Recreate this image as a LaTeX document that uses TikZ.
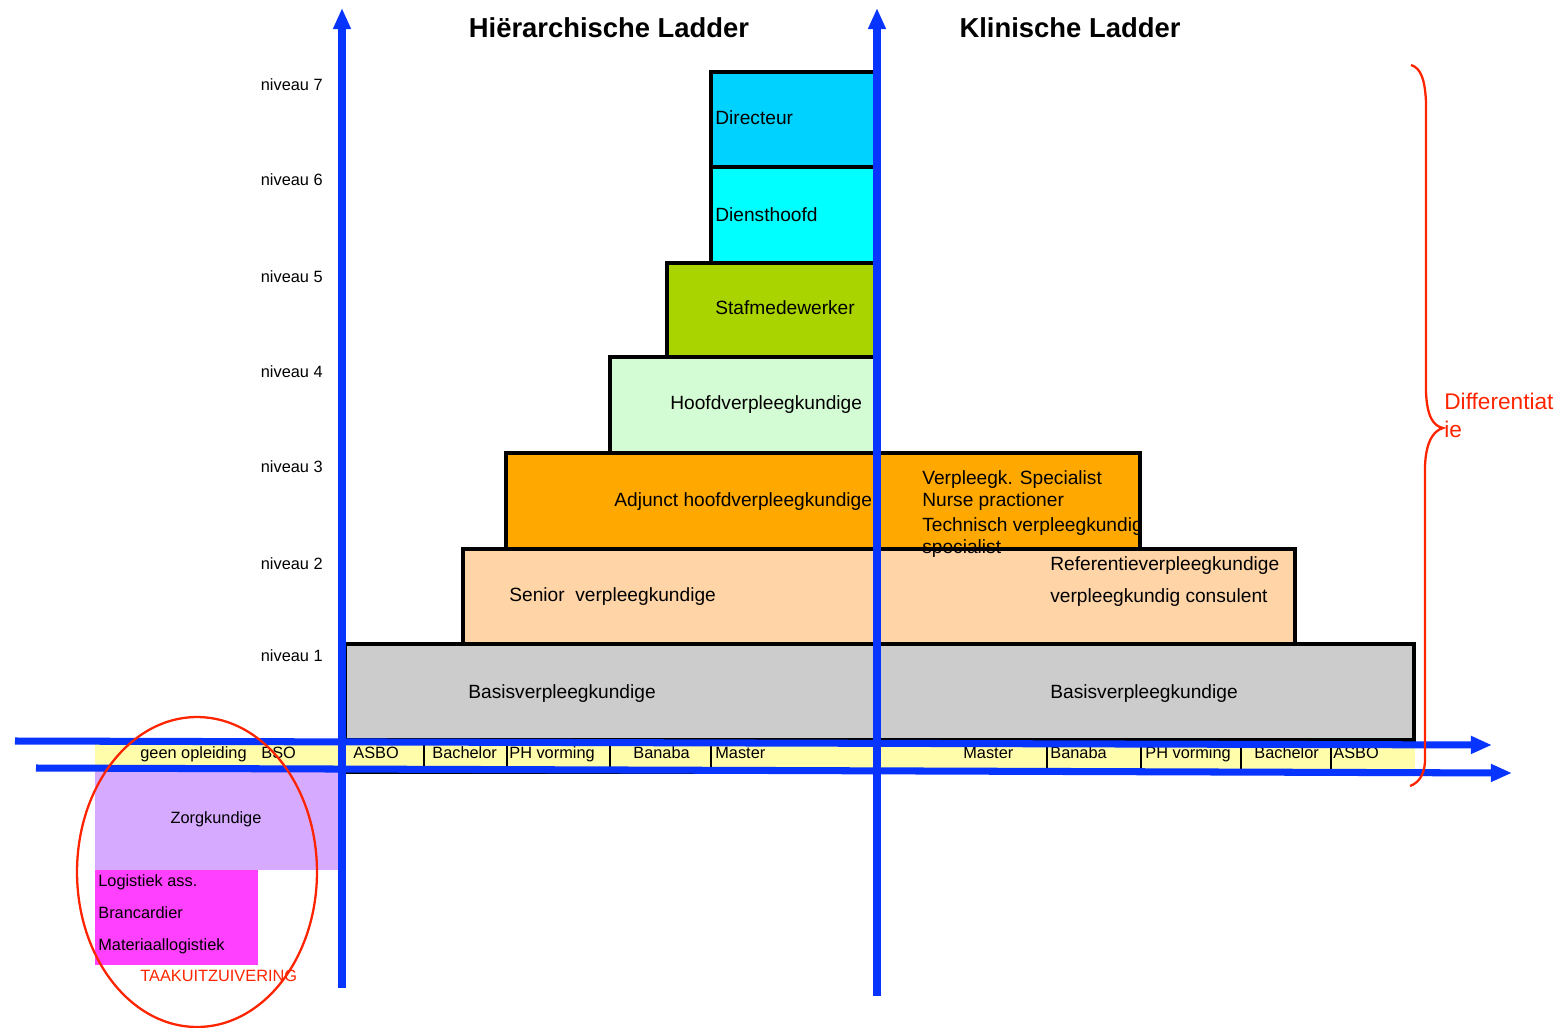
\documentclass[tikz,border=0pt]{standalone}
\usepackage{fontspec}
\setmainfont{Liberation Sans}
\usetikzlibrary{arrows.meta}
\definecolor{axblue}{RGB}{8,52,255}
\definecolor{cdir}{RGB}{0,210,255}
\definecolor{cdienst}{RGB}{0,255,255}
\definecolor{cstaf}{RGB}{170,212,0}
\definecolor{choofd}{RGB}{212,252,212}
\definecolor{cadj}{RGB}{255,168,0}
\definecolor{csenior}{RGB}{255,213,168}
\definecolor{cbasis}{RGB}{204,204,204}
\definecolor{cstrip}{RGB}{255,252,170}
\definecolor{czorg}{RGB}{214,170,255}
\definecolor{cmag}{RGB}{255,64,255}
\definecolor{cred}{RGB}{255,36,0}
\newcommand\pxbox[6]{\node[ladderbox, fill=#6, minimum width={(#4-#2)*0.02cm}, minimum height={(#5-#3)*0.02cm}] (#1) at (#2,#3) {};}
\newcommand\flatbox[6]{\node[flatrect, fill=#6, minimum width={(#4-#2)*0.02cm}, minimum height={(#5-#3)*0.02cm}] (#1) at (#2,#3) {};}
\begin{document}
\begin{tikzpicture}[x=0.02cm,y=-0.02cm,
  ladderbox/.style={draw=black, line width=2.1pt, inner sep=0pt, outer sep=0pt, anchor=north west, rectangle},
  flatrect/.style={draw=none, inner sep=0pt, outer sep=0pt, anchor=north west, rectangle},
  lbl/.style={anchor=west, inner sep=0pt, text height=0.716em, text depth=0pt, font=\fontsize{10.9}{13}\selectfont},
  sml/.style={anchor=west, inner sep=0pt, text height=0.716em, text depth=0pt, font=\fontsize{9.3}{11}\selectfont},
  lvl/.style={anchor=east, inner sep=0pt, text height=0.716em, text depth=0pt, font=\fontsize{9.3}{11}\selectfont},
  ttl/.style={inner sep=0pt, text height=0.716em, text depth=0pt, font=\fontsize{15.6}{18}\selectfont\bfseries},
  axis/.style={draw=axblue, line width=4pt, -{Triangle[length=12pt,width=9.5pt]}},
  divider/.style={draw=black, line width=1.5pt},
  redline/.style={draw=cred, line width=1.3pt}
]
\useasboundingbox (0,0) rectangle (1560,1028);

% education strip and bottom boxes
\flatbox{strip}{95}{741}{1415}{770}{cstrip}
\flatbox{zorg}{95}{770}{338}{870}{czorg}
\flatbox{logi}{95}{870}{258}{965}{cmag}

% ladder boxes
\pxbox{basis}{345}{644}{1414}{740}{cbasis}
\pxbox{senior}{463}{549}{1295}{644}{csenior}
\pxbox{adj}{506}{453}{1140}{549}{cadj}
\pxbox{hoofd}{610}{357}{876}{453}{choofd}
\pxbox{staf}{667}{263}{876}{357}{cstaf}
\pxbox{dienst}{711}{167}{876}{263}{cdienst}
\pxbox{dir}{711}{72}{876}{167}{cdir}

% strip dividers
\foreach \i/\xx in {a/424,b/507,c/610,d/711,e/1047,f/1141,g/1241,h/1331}{
  \coordinate (dt\i) at (\xx,745);
  \coordinate (db\i) at (\xx,773);
  \draw[divider] (dt\i) -- (db\i);
}
\coordinate (slA) at (345,773);
\coordinate (slB) at (711,773);
\draw[draw=black, line width=0.8pt] (slA) -- (slB);

% level labels
\node[lvl] (n7) at (323,84) {niveau 7};
\node[lvl] (n6) at (323,179) {niveau 6};
\node[lvl] (n5) at (323,276) {niveau 5};
\node[lvl] (n4) at (323,371) {niveau 4};
\node[lvl] (n3) at (323,466) {niveau 3};
\node[lvl] (n2) at (323,563) {niveau 2};
\node[lvl] (n1) at (323,655) {niveau 1};

% titles
\node[ttl] (t1) at (609,31) {Hiërarchische Ladder};
\node[ttl] (t2) at (1070,31) {Klinische Ladder};

% box labels
\node[lbl] (ldir) at (715,118) {Directeur};
\node[lbl] (ldienst) at (715,215) {Diensthoofd};
\node[lbl] (lstaf) at (715,308) {Stafmedewerker};
\node[lbl] (lhoofd) at (670,403) {Hoofdverpleegkundige};
\node[lbl] (ladj) at (614,500) {Adjunct hoofdverpleegkundige};
\node[lbl] (lsen) at (509,595) {Senior\ \ verpleegkundige};
\node[lbl] (lbas1) at (468,692) {Basisverpleegkundige};
\node[lbl] (lbas2) at (1050,692) {Basisverpleegkundige};
\node[lbl] (lvs1) at (922,478) {Verpleegk. Specialist};
\node[lbl] (lvs2) at (922,500) {Nurse practioner};
\node[lbl] (lvs3) at (922,525) {Technisch verpleegkundig};
\node[lbl] (lvs4) at (922,547) {specialist};
\node[lbl] (lref1) at (1050,564) {Referentieverpleegkundige};
\node[lbl] (lref2) at (1050,596) {verpleegkundig consulent};

% education labels
\node[sml] (e0) at (140,752) {geen opleiding};
\node[sml] (e0b) at (261,752) {BSO};
\node[sml] (e1) at (353,752) {ASBO};
\node[sml] (e2) at (432,752) {Bachelor};
\node[sml] (e3) at (509,752) {PH vorming};
\node[sml] (e4) at (633,752) {Banaba};
\node[sml] (e5) at (715,752) {Master};
\node[sml] (e6) at (963,752) {Master};
\node[sml] (e7) at (1050,752) {Banaba};
\node[sml] (e8) at (1145,752) {PH vorming};
\node[sml] (e9) at (1254,752) {Bachelor};
\node[sml] (e10) at (1333,752) {ASBO};

% bottom-left labels
\node[sml, anchor=center] (lzorg) at (216,817) {Zorgkundige};
\node[sml] (ll1) at (98,880) {Logistiek ass.};
\node[sml] (ll2) at (98,912) {Brancardier};
\node[sml] (ll3) at (98,944) {Materiaallogistiek};
\node[sml, text=cred] (ltaak) at (140,975) {TAAKUITZUIVERING};

% axes
\coordinate (hu0) at (15,741);  \coordinate (hu1) at (1492,745);
\coordinate (hl0) at (36,768);  \coordinate (hl1) at (1512,773);
\coordinate (vl0) at (342,988); \coordinate (vl1) at (342,8);
\coordinate (vr0) at (877,996); \coordinate (vr1) at (877,8);
\draw[axis] (hu0) -- (hu1);
\draw[axis] (hl0) -- (hl1);
\draw[axis] (vl0) -- (vl1);
\draw[axis] (vr0) -- (vr1);

% red brace and label
\coordinate (br0) at (1411,65);
\coordinate (brt) at (1443,428);
\coordinate (br1) at (1410,786);
\draw[redline] (br0) .. controls (1421,68) and (1425,80) .. (1426,102)
  -- (1426,392) .. controls (1427,416) and (1433,426) .. (brt)
  .. controls (1433,431) and (1426,442) .. (1425,466)
  -- (1425,762) .. controls (1424,776) and (1418,783) .. (br1);
\node[anchor=west, inner sep=0pt, text height=0.716em, text depth=0pt, font=\fontsize{12.9}{15}\selectfont, text=cred] (dif1) at (1444,403) {Differentiat};
\node[anchor=west, inner sep=0pt, text height=0.716em, text depth=0pt, font=\fontsize{12.9}{15}\selectfont, text=cred] (dif2) at (1444,431) {ie};

% red ellipse
\coordinate (ec) at (197,872);
\draw[redline] (ec) ellipse [x radius=2.4cm, y radius=3.1cm];
\end{tikzpicture}
\end{document}
